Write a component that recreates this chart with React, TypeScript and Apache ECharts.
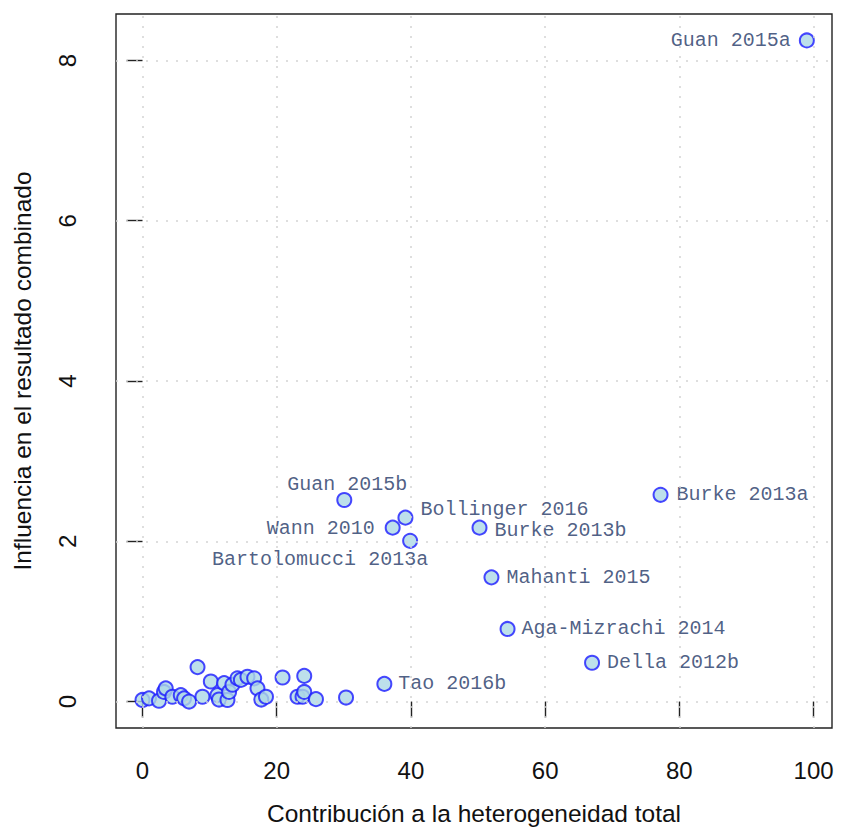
import React, { useEffect, useRef } from "react";
import * as echarts from "echarts";

// Tick values
const xTicks = [0, 20, 40, 60, 80, 100];
const yTicks = [0, 2, 4, 6, 8];

// Labelled studies
const labelNames = [
  "Guan 2015a",
  "Guan 2015b",
  "Bollinger 2016",
  "Wann 2010",
  "Bartolomucci 2013a",
  "Burke 2013b",
  "Burke 2013a",
  "Mahanti 2015",
  "Aga-Mizrachi 2014",
  "Della 2012b",
  "Tao 2016b",
];
const labelX = [99.0, 30.07, 39.18, 37.28, 39.88, 50.22, 77.2, 52.0, 54.4, 66.99, 36.04];
const labelY = [8.25, 2.515, 2.295, 2.17, 2.006, 2.17, 2.58, 1.55, 0.906, 0.484, 0.22];

// Unlabelled studies
const otherX = [
  0.0, 0.97, 2.46, 3.2, 3.46, 4.45, 5.7, 6.2, 6.94, 8.2, 8.93, 10.18, 11.16, 11.4,
  12.16, 12.66, 12.9, 13.4, 14.15, 14.66, 15.64, 16.64, 17.13, 17.7, 18.4, 20.87,
  23.1, 23.85, 24.1, 24.1, 25.85, 30.33,
];
const otherY = [
  0.02, 0.04, 0.01, 0.12, 0.165, 0.06, 0.08, 0.04, 0.0, 0.43, 0.06, 0.25, 0.08, 0.025,
  0.23, 0.02, 0.12, 0.21, 0.29, 0.27, 0.31, 0.29, 0.165, 0.025, 0.06, 0.3,
  0.06, 0.06, 0.12, 0.32, 0.03, 0.05,
];

// Label placement (style only)
const labelPlacement: Record<string, { position: string; distance: number; offset: [number, number] }> = {
  "Guan 2015a": { position: "left", distance: 8, offset: [0, 0] },
  "Guan 2015b": { position: "top", distance: 0, offset: [3, 2] },
  "Bollinger 2016": { position: "right", distance: 7, offset: [0, -8] },
  "Wann 2010": { position: "left", distance: 10, offset: [0, 1] },
  "Bartolomucci 2013a": { position: "bottom", distance: 1, offset: [-90, 0] },
  "Burke 2013b": { position: "right", distance: 7, offset: [0, 3] },
  "Burke 2013a": { position: "right", distance: 8, offset: [0, 0] },
  "Mahanti 2015": { position: "right", distance: 7, offset: [0, 0] },
  "Aga-Mizrachi 2014": { position: "right", distance: 6, offset: [0, 0] },
  "Della 2012b": { position: "right", distance: 7, offset: [0, 0] },
  "Tao 2016b": { position: "right", distance: 6, offset: [0, 0] },
};

const axisFont = "'Liberation Sans', Arial, Helvetica, sans-serif";
const labelColor = "#1f3766";

export default function App() {
  const ref = useRef<HTMLDivElement>(null);

  useEffect(() => {
    if (!ref.current) return;
    const chart = echarts.init(ref.current, undefined, { renderer: "svg" });

    const pointStyle = {
      color: "#add8e6",
      borderColor: "#1a1aff",
      borderWidth: 2,
    };

    const labelled = labelNames.map((n, i) => {
      const p = labelPlacement[n];
      return {
        name: n,
        value: [labelX[i], labelY[i]],
        label: {
          show: true,
          formatter: n,
          position: p.position,
          distance: p.distance,
          offset: p.offset,
          fontFamily: "'Liberation Mono', 'Courier New', monospace",
          fontSize: 20,
          color: labelColor,
        },
      };
    });

    const others = otherX.map((x, i) => [x, otherY[i]]);

    chart.setOption({
      animation: false,
      backgroundColor: "#ffffff",
      grid: {
        left: 116,
        right: 10,
        top: 14,
        bottom: 100,
        show: true,
        borderColor: "#222222",
        borderWidth: 1.4,
        backgroundColor: "transparent",
      },
      xAxis: {
        type: "value",
        min: -3.95,
        max: 102.75,
        axisLine: { show: false },
        splitLine: { show: false },
        axisTick: {
          show: true,
          length: 16,
          customValues: xTicks,
          lineStyle: { color: "#222222", width: 1.4 },
        },
        axisLabel: {
          customValues: xTicks,
          margin: 30,
          fontSize: 24,
          color: "#111111",
          fontFamily: axisFont,
        },
        name: "Contribución a la heterogeneidad total",
        nameLocation: "middle",
        nameGap: 73,
        nameTextStyle: { fontSize: 24.5, color: "#111111", fontFamily: axisFont },
      },
      yAxis: {
        type: "value",
        min: -0.33,
        max: 8.58,
        axisLine: { show: false },
        splitLine: { show: false },
        axisTick: {
          show: true,
          length: 16,
          customValues: yTicks,
          lineStyle: { color: "#222222", width: 1.4 },
        },
        axisLabel: {
          customValues: yTicks,
          rotate: 90,
          margin: 37,
          fontSize: 24,
          color: "#111111",
          fontFamily: axisFont,
        },
        name: "Influencia en el resultado combinado",
        nameLocation: "middle",
        nameGap: 81,
        nameTextStyle: { fontSize: 24.5, color: "#111111", fontFamily: axisFont },
      },
      series: [
        {
          type: "scatter",
          data: [],
          z: 1,
          silent: true,
          markLine: {
            silent: true,
            symbol: "none",
            label: { show: false },
            lineStyle: { color: "#d3d3d3", type: [2, 8], width: 1.5 },
            data: [
              ...xTicks.map((v) => ({ xAxis: v })),
              ...yTicks.map((v) => ({ yAxis: v })),
            ],
          },
        },
        {
          type: "scatter",
          z: 2,
          symbol: "circle",
          symbolSize: 14,
          itemStyle: pointStyle,
          data: others,
        },
        {
          type: "scatter",
          z: 3,
          symbol: "circle",
          symbolSize: 14,
          itemStyle: pointStyle,
          data: labelled,
        },
      ],
    });

    return () => chart.dispose();
  }, []);

  return (
    <div
      ref={ref}
      style={{ position: "fixed", left: 0, top: 0, width: 842, height: 831 }}
    />
  );
}
